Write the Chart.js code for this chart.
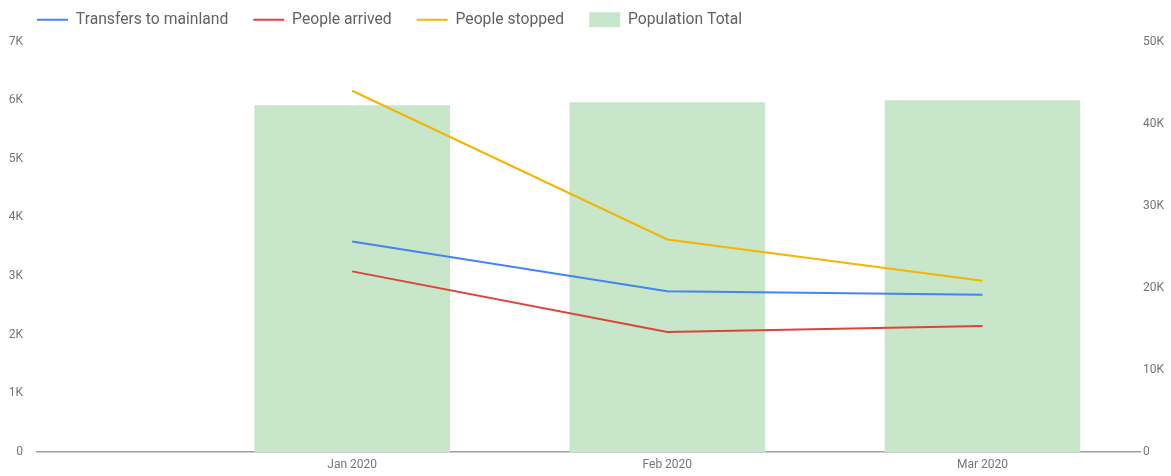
<!DOCTYPE html>
<html>
<head>
<meta charset="utf-8">
<script src="https://cdn.jsdelivr.net/npm/chart.js@4"></script>
<style>
  html, body { margin: 0; padding: 0; background: #fff; }
  #wrap { width: 1171px; height: 476px; }
</style>
</head>
<body>
<div id="wrap"><canvas id="chart"></canvas></div>
<script>
// data
const months = ['Jan 2020', 'Feb 2020', 'Mar 2020'];
const transfers = [3590, 2740, 2680];
const arrived = [3080, 2045, 2150];
const stopped = [6160, 3625, 2920];
const population = [42200, 42550, 42800];

const kFormat = v => v === 0 ? '0' : (v / 1000) + 'K';
// month i sits at x = i + 1 on the linear x axis
const toPoints = arr => arr.map((v, i) => ({ x: i + 1, y: v }));

// nudge the legend into place (Chart.js ties horizontal and vertical padding together)
const legendShift = {
    id: 'legendShift',
    afterLayout(chart) {
        chart.legend.left = 12;
        chart.legend.top = -13;
    }
};

new Chart(document.getElementById('chart'), {
    type: 'bar',
    data: {
        datasets: [{
            type: 'line',
            label: 'Transfers to mainland',
            data: toPoints(transfers),
            borderColor: '#4285F4',
            borderWidth: 2,
            pointRadius: 0,
            pointStyle: 'line',
            tension: 0,
            yAxisID: 'y',
            order: 0
        }, {
            type: 'line',
            label: 'People arrived',
            data: toPoints(arrived),
            borderColor: '#DB4437',
            borderWidth: 2,
            pointRadius: 0,
            pointStyle: 'line',
            tension: 0,
            yAxisID: 'y',
            order: 0
        }, {
            type: 'line',
            label: 'People stopped',
            data: toPoints(stopped),
            borderColor: '#F4B400',
            borderWidth: 2,
            pointRadius: 0,
            pointStyle: 'line',
            tension: 0,
            yAxisID: 'y',
            order: 0
        }, {
            label: 'Population Total',
            data: toPoints(population),
            backgroundColor: '#C8E6C9',
            borderWidth: 0,
            barThickness: 195,
            pointStyle: 'rect',
            yAxisID: 'y1',
            order: 1
        }]
    },
    plugins: [legendShift],
    options: {
        responsive: true,
        maintainAspectRatio: false,
        animation: false,
        layout: { padding: 0 },
        plugins: {
            legend: {
                position: 'top',
                align: 'start',
                maxHeight: 41.5,
                labels: {
                    usePointStyle: true,
                    pointStyleWidth: 31,
                    boxHeight: 15,
                    padding: 25,
                    color: '#5f6368',
                    font: { family: 'Roboto', size: 15.7 }
                }
            },
            tooltip: { enabled: false }
        },
        scales: {
            x: {
                type: 'linear',
                offset: false,
                min: 0,
                max: 3.5,
                grid: { display: false, drawTicks: false },
                border: { display: true, color: '#9e9e9e', width: 1.5 },
                afterBuildTicks: s => { s.ticks = months.map((m, i) => ({ value: i + 1 })); },
                afterFit: s => { s.height = 24; },
                ticks: {
                    padding: 6,
                    color: '#757575',
                    font: { family: 'Roboto', size: 12 },
                    maxRotation: 0,
                    callback: v => months[v - 1] || ''
                }
            },
            y: {
                position: 'left',
                min: 0,
                max: 7000,
                grid: { display: false, drawTicks: false },
                border: { display: false },
                afterFit: s => { s.width = 37; },
                ticks: {
                    stepSize: 1000,
                    padding: 14,
                    color: '#757575',
                    font: { family: 'Roboto', size: 12 },
                    callback: kFormat
                }
            },
            y1: {
                position: 'right',
                min: 0,
                max: 50000,
                grid: { display: false, drawTicks: false },
                border: { display: false },
                afterFit: s => { s.width = 31; },
                ticks: {
                    stepSize: 10000,
                    padding: 3,
                    color: '#757575',
                    font: { family: 'Roboto', size: 12 },
                    callback: kFormat
                }
            }
        }
    }
});
</script>
</body>
</html>
